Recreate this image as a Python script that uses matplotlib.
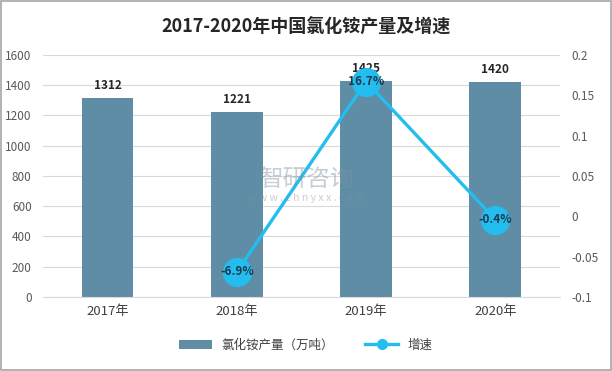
import matplotlib.pyplot as plt
from matplotlib.patches import Rectangle

plt.rcParams['font.family'] = ['Noto Sans CJK SC', 'DejaVu Sans']

years = ['2017年', '2018年', '2019年', '2020年']
output = [1312, 1221, 1425, 1420]
growth_years = [1, 2, 3]
growth = [-0.069, 0.167, -0.004]
growth_labels = ['-6.9%', '16.7%', '-0.4%']

bar_color = '#5F8DA6'
line_color = '#23BDEF'
grid_color = '#D9D9D9'
tick_color = '#595959'

fig = plt.figure(figsize=(6.12, 3.71), dpi=100)
ax = fig.add_axes([0.070, 0.1995, 0.845, 0.6525])
ax2 = ax.twinx()

x = list(range(len(years)))
ax.bar(x, output, width=0.4, color=bar_color, zorder=2, label='氯化铵产量（万吨）')
for xi, v in zip(x, output):
    ax.text(xi, v + 40, str(v), ha='center', va='bottom', fontsize=8.5,
            fontweight='bold', color='#262626', zorder=5)

ax.set_xlim(-0.5, 3.5)
ax.set_ylim(0, 1600)
ax.set_yticks(range(0, 1601, 200))
ax.grid(axis='y', color=grid_color, linewidth=0.8, zorder=0)
ax.set_axisbelow(True)
ax.set_xticks(x)
ax.set_xticklabels(years, fontsize=9.5, color='#404040')
ax.tick_params(axis='y', labelsize=8.5, colors=tick_color, length=0, pad=8)
ax.tick_params(axis='x', length=0, pad=6)

ax2.plot(growth_years, growth, color=line_color, linewidth=2.4, marker='o',
         markersize=20, markerfacecolor=line_color, markeredgecolor=line_color,
         zorder=3, label='增速')
for xi, v, t in zip(growth_years, growth, growth_labels):
    ax2.text(xi, v, t, ha='center', va='center', fontsize=8.5,
             fontweight='bold', color='#1F3A4D', zorder=6)
ax2.set_ylim(-0.1, 0.2)
ax2.set_yticks([-0.1, -0.05, 0, 0.05, 0.1, 0.15, 0.2])
ax2.set_yticklabels(['-0.1', '-0.05', '0', '0.05', '0.1', '0.15', '0.2'])
ax2.tick_params(axis='y', labelsize=8.5, colors=tick_color, length=0, pad=8)

for a in (ax, ax2):
    for s in a.spines.values():
        s.set_visible(False)
ax.spines['bottom'].set_visible(True)
ax.spines['bottom'].set_color(grid_color)

# watermark
fig.text(0.50, 0.515, '智研咨询', fontsize=17, color='#7F93A3', alpha=0.45,
         ha='center', va='center', zorder=10)
fig.text(0.50, 0.465, 'w w w . c h n y x x . c o m', fontsize=7.5,
         color='#7F93A3', alpha=0.45, ha='center', va='center', zorder=10)

fig.suptitle('2017-2020年中国氯化铵产量及增速', y=0.955, fontsize=13,
             fontweight='bold', color='#262626')

h1, l1 = ax.get_legend_handles_labels()
h2, l2 = ax2.get_legend_handles_labels()
leg = fig.legend(h1 + h2, l1 + l2, loc='center', bbox_to_anchor=(0.5, 0.07),
                 ncol=2, frameon=False, fontsize=9, handlelength=2.6,
                 columnspacing=2.5, markerscale=0.35)
for t in leg.get_texts():
    t.set_color('#404040')

fig.patches.append(Rectangle((0.002, 0.003), 0.996, 0.994, transform=fig.transFigure,
                             fill=False, edgecolor='#A6A6A6', linewidth=1.2))

fig.savefig('out.png', dpi=100)
